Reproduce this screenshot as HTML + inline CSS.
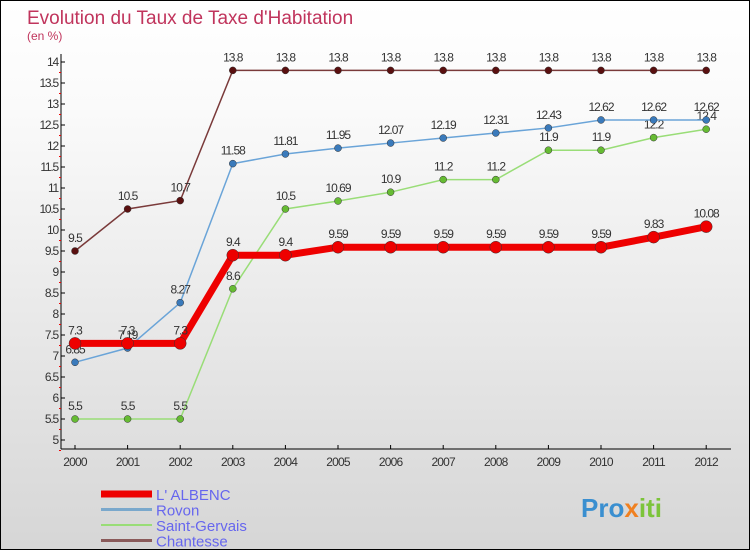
<!DOCTYPE html>
<html><head><meta charset="utf-8"><style>
body{margin:0}
#c{width:748px;height:548px;border:1px solid #000;background:linear-gradient(#fff,#fafafa 20%,#d6d6d6);position:relative;font-family:"Liberation Sans",sans-serif}
text{font-family:"Liberation Sans",sans-serif}
</style></head><body>
<div id="c">
<svg id="s" width="748" height="548">
<text x="26" y="23" font-size="19" fill="#c0345c">Evolution du Taux de Taxe d'Habitation</text>
<text x="26" y="39" font-size="12" fill="#c0345c">(en %)</text>
<g id="g"></g>
<text x="580" y="516" font-size="26" font-weight="bold" fill="#3a8fd0">Pro<tspan fill="#f08020">x</tspan><tspan fill="#7cc43a">iti</tspan></text>
</svg></div>
<script>
const years=[2000,2001,2002,2003,2004,2005,2006,2007,2008,2009,2010,2011,2012];
const albenc=[7.3,7.3,7.3,9.4,9.4,9.59,9.59,9.59,9.59,9.59,9.59,9.83,10.08];
const rovon=[6.85,7.19,8.27,11.58,11.81,11.95,12.07,12.19,12.31,12.43,12.62,12.62,12.62];
const stg=[5.5,5.5,5.5,8.6,10.5,10.69,10.9,11.2,11.2,11.9,11.9,12.2,12.4];
const chant=[9.5,10.5,10.7,13.8,13.8,13.8,13.8,13.8,13.8,13.8,13.8,13.8,13.8];
const yTicks=[5,5.5,6,6.5,7,7.5,8,8.5,9,9.5,10,10.5,11,11.5,12,12.5,13,13.5,14];
const names=["L' ALBENC","Rovon","Saint-Gervais","Chantesse"];
const ns="http://www.w3.org/2000/svg",g=document.getElementById('g');
const X=i=>74+i*52.6, Y=v=>439-(v-5)*42.0;
function mk(t,a,p){const e=document.createElementNS(ns,t);for(const k in a)e.setAttribute(k,a[k]);(p||g).appendChild(e);return e;}
let e=mk('line',{x1:60,y1:53,x2:60,y2:448,stroke:'#000'});


e=mk('line',{x1:60,y1:448,x2:730,y2:448,stroke:'#000'});


yTicks.forEach(v=>{const y=Y(v);
 mk('line',{x1:60,y1:y,x2:64,y2:y,stroke:'#000'});
 mk('line',{x1:58,y1:y+10.5,x2:60,y2:y+10.5,stroke:'#e00'});
 const t=mk('text',{x:57,y:y+4,'font-size':12,'text-anchor':'end',fill:'#333','letter-spacing':'-1.2'});t.textContent=v;
 
 });
years.forEach((yr,i)=>{mk('line',{x1:X(i),y1:444,x2:X(i),y2:448,stroke:'#000'});
 const t=mk('text',{x:X(i),y:465,'font-size':12,'text-anchor':'middle',fill:'#333','letter-spacing':'-0.8'});t.textContent=yr;
 
 });
const series=[[chant,'#7a3a3a','#5a1010',1.5,3.5],[stg,'#99dd77','#66bb33',1.5,3.5],[rovon,'#6aa4d8','#3a7abb',1.5,3.5],[albenc,'#ee0000','#ee0000',7,6]];
const nmap={0:'chantesse',1:'saint-gervais',2:'rovon',3:'albenc'};
series.forEach((s,k)=>{const [d,c,mc,w,r]=s;
 const p=mk('polyline',{points:d.map((v,i)=>X(i)+','+Y(v)).join(' '),fill:'none',stroke:c,'stroke-width':w});
 
 
 d.forEach((v,i)=>{const m=mk('circle',{cx:X(i),cy:Y(v),r:r,fill:mc,stroke:'#333','stroke-width':0.5});
  
  
  const t=mk('text',{x:X(i),y:Y(v)-9,'font-size':12,'text-anchor':'middle',fill:'#333','letter-spacing':'-1'});t.textContent=v;
  
  });});
const lc=['#ee0000','#7aa8cc','#99dd77','#8a5a5a'],lw=[7,3,2,3];
names.forEach((n,i)=>{const y=493+i*15.5;
 const l=mk('line',{x1:100,y1:y,x2:151,y2:y,stroke:lc[i],'stroke-width':lw[i]});
 
 
 const t=mk('text',{x:155,y:y+6,'font-size':15,fill:'#6666ee'});t.textContent=n;
 
 });
</script></body></html>
